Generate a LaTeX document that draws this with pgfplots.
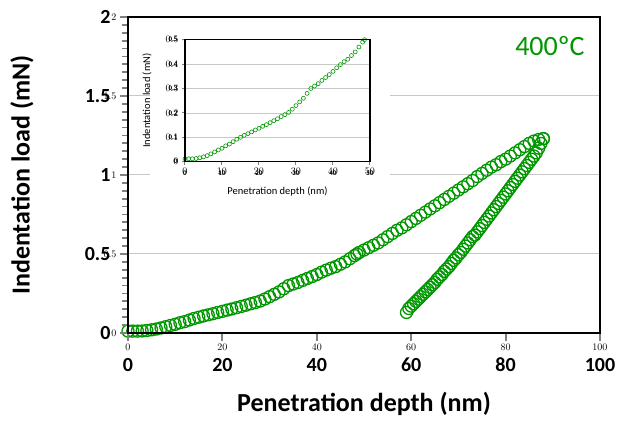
\documentclass[border=0pt]{standalone}
\usepackage{pgfplots}
\pgfplotsset{compat=1.18}
\usepackage{pgfplotstable}
\usepackage{fontspec}
\setmainfont{Carlito}
\definecolor{lgreen}{RGB}{0,150,0}
\definecolor{gridgray}{RGB}{200,200,200}

% loading branch (nm, mN)
\pgfplotstableread{
x y
0 0.012
1 0.012
2 0.012
3 0.013
4 0.016
5 0.02
6 0.025
7 0.032
8 0.04
9 0.048
10 0.055
11 0.065
12 0.072
13 0.082
14 0.092
15 0.1
16 0.108
17 0.115
18 0.122
19 0.13
20 0.137
21 0.145
22 0.152
23 0.16
24 0.168
25 0.176
26 0.185
27 0.193
28 0.202
29 0.215
30 0.23
31 0.245
32 0.26
33 0.28
34 0.3
35 0.31
36 0.32
37 0.333
38 0.345
39 0.357
40 0.37
41 0.385
42 0.398
43 0.41
44 0.42
45 0.435
46 0.45
47 0.47
48 0.49
48.5 0.5
49 0.51
50 0.525
51 0.54
52 0.555
53 0.57
54 0.59
55 0.61
56 0.63
57 0.65
58 0.665
59 0.685
60 0.705
61 0.725
62 0.745
63 0.765
64 0.785
65 0.805
66 0.825
67 0.845
68 0.865
69 0.885
70 0.905
71 0.925
72 0.945
73 0.965
74 0.99
75 1.01
76 1.03
77 1.05
78 1.065
79 1.085
80 1.1
81 1.12
82 1.14
83 1.16
84 1.18
85 1.2
86 1.215
87 1.225
88 1.23
}\loading

% unloading branch
\pgfplotstableread{
x y
88 1.23
87.5 1.2
87 1.17
86.5 1.14
86 1.12
85.5 1.1
85 1.08
84.5 1.06
84 1.04
83.5 1.02
83 1.0
82.5 0.98
82 0.96
81.5 0.94
81 0.92
80.5 0.9
80 0.88
79.5 0.86
79 0.84
78.5 0.82
78 0.8
77.5 0.78
77 0.76
76.5 0.74
76 0.72
75.5 0.7
75 0.68
74.5 0.66
74 0.64
73.5 0.62
73 0.61
72.5 0.59
72 0.57
71.5 0.55
71 0.53
70.5 0.51
70 0.495
69.5 0.475
69 0.46
68.5 0.44
68 0.42
67.5 0.405
67 0.39
66.5 0.37
66 0.355
65.5 0.34
65 0.32
64.5 0.305
64 0.29
63.5 0.275
63 0.26
62.5 0.245
62 0.23
61.5 0.215
61 0.2
60.5 0.185
60 0.17
59.5 0.155
59 0.13
}\unloading

\begin{document}
\begin{tikzpicture}

% main data axis
\begin{axis}[
  at={(0,0)}, anchor=south west,
  scale only axis,
  width=472pt, height=316pt,
  xmin=0, xmax=100, ymin=0, ymax=2,
  xtick={0,20,40,60,80,100},
  xticklabels={0,20,40,60,80,100},
  ytick={0,0.5,1,1.5,2},
  yticklabels={0,0.5,1,1.5,2},
  axis line style={draw=none},
  major tick length=0pt,
  ymajorgrids,
  grid style={gridgray, line width=1pt},
  tick label style={font=\fontsize{20}{24}\selectfont\bfseries},
  xticklabel style={anchor=base, yshift=-39pt},
  yticklabel style={xshift=-14pt},
  xlabel={Penetration depth (nm)},
  ylabel={Indentation load (mN)},
  label style={font=\fontsize{26}{30}\selectfont\bfseries},
  xlabel style={at={(axis description cs:0.5,0)}, anchor=base, yshift=-79pt},
  ylabel style={at={(axis description cs:0,0.5)}, anchor=center, yshift=106pt},
  clip=false,
]
\fill[white] (axis cs:4.6,0.84) rectangle (axis cs:55.5,1.98);
\addplot[only marks, mark=o, mark size=6pt, lgreen, line width=1.3pt,
  mark options={fill=white}] table[x=x, y=y] {\loading};
\addplot[only marks, mark=o, mark size=6pt, lgreen, line width=1.3pt,
  mark options={fill=white}] table[x=x, y=y] {\unloading};
\node[lgreen, font=\fontsize{28}{32}\selectfont] at (axis cs:89.4,1.815) {400ºC};
\end{axis}

% inset data axis
\begin{axis}[
  at={(57pt,171.3pt)}, anchor=south west,
  scale only axis,
  width=185pt, height=122pt,
  xmin=0, xmax=50, ymin=0, ymax=0.5,
  xtick={0,10,20,30,40,50},
  xticklabels={0,10,20,30,40,50},
  ytick={0,0.1,0.2,0.3,0.4,0.5},
  yticklabels={0,0.1,0.2,0.3,0.4,0.5},
  axis line style={draw=none},
  major tick length=0pt,
  ymajorgrids,
  grid style={gridgray, line width=0.6pt},
  tick label style={font=\fontsize{7}{8}\selectfont\bfseries},
  xticklabel style={anchor=center, yshift=-12pt},
  yticklabel style={xshift=-4pt},
  xlabel={Penetration depth (nm)},
  ylabel={Indentation load (mN)},
  label style={font=\fontsize{10.5}{12}\selectfont},
  xlabel style={at={(axis description cs:0.5,0)}, anchor=center, yshift=-30pt},
  ylabel style={at={(axis description cs:0,0.5)}, anchor=center, yshift=38pt},
]
\addplot[only marks, mark=o, mark size=2pt, lgreen, line width=0.6pt,
  mark options={fill=white}, restrict x to domain=0:48.5] table[x=x, y=y] {\loading};
\end{axis}

% frame and ticks of the main axis
\begin{axis}[
  at={(0,0)}, anchor=south west,
  scale only axis,
  width=472pt, height=316pt,
  xmin=0, xmax=100, ymin=0, ymax=2,
  xtick={0,20,40,60,80,100},
  ytick={0,0.5,1,1.5,2},
  minor y tick num=9,
  xticklabel={}, yticklabel={},
  axis line style={line width=2.5pt},
  tick style={line width=2pt},
  minor tick style={line width=1.8pt},
  major tick length=8pt, minor tick length=6pt,
  tick align=outside,
  xtick pos=left, ytick pos=left,
]
\end{axis}

% frame and ticks of the inset
\begin{axis}[
  at={(57pt,171.3pt)}, anchor=south west,
  scale only axis,
  width=185pt, height=122pt,
  xmin=0, xmax=50, ymin=0, ymax=0.5,
  xtick={0,10,20,30,40,50},
  ytick={0,0.1,0.2,0.3,0.4,0.5},
  xticklabel={}, yticklabel={},
  axis line style={line width=1.2pt},
  tick style={line width=1pt},
  major tick length=3pt,
  tick align=outside,
  xtick pos=left, ytick pos=left,
]
\end{axis}
\path (-128pt,-95pt) rectangle (494pt,333pt);
\end{tikzpicture}
\end{document}
